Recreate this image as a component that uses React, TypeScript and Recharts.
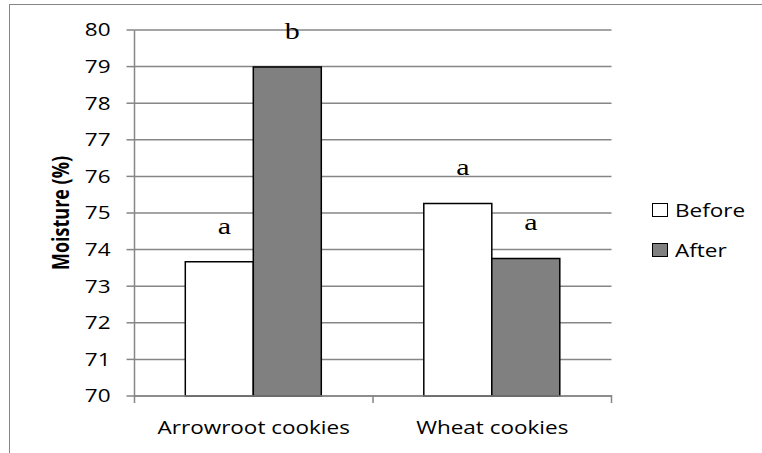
import React from 'react';
import { BarChart, Bar, XAxis, YAxis, CartesianGrid, Legend, LabelList, Label } from 'recharts';

const categories = ['Arrowroot cookies', 'Wheat cookies'];
const beforeValues = [73.67, 75.26];
const afterValues = [78.99, 73.76];
const beforeLetters = ['a', 'a'];
const afterLetters = ['b', 'a'];
const yTicks = [70, 71, 72, 73, 74, 75, 76, 77, 78, 79, 80];
const seriesNames = ['Before', 'After'];
const yTitle = 'Moisture (%)';

const data = categories.map((c, i) => ({
  name: c,
  before: beforeValues[i],
  after: afterValues[i],
  beforeLetter: beforeLetters[i],
  afterLetter: afterLetters[i],
}));

const SANS = '"Open Sans", sans-serif';
const GRID = '#868686';
const SX = 1.25;

const LetterLabel = (props: any) => {
  const { x, y, width, value } = props;
  const cx = x + width / 2 + 5;
  const cy = y - 28;
  return (
    <text transform={`translate(${cx},${cy}) scale(${SX},1)`} x={0} y={0} textAnchor="middle" fontFamily='"Liberation Serif", serif' fontSize={24} fill="#000">
      {value}
    </text>
  );
};

const YTick = (props: any) => {
  const { x, y, payload } = props;
  return (
    <text transform={`translate(${x},${y}) scale(${SX},1)`} x={0} y={0} dy="0.36em" textAnchor="end" fontFamily={SANS} fontSize={18} fill="#000">
      {payload.value}
    </text>
  );
};

const YTitle = (props: any) => {
  const vb = props.viewBox || {};
  const cx = (vb.x || 0) + 11;
  const cy = (vb.y || 0) + (vb.height || 0) / 2;
  return (
    <text transform={`translate(${cx},${cy}) scale(${SX},1) rotate(-90)`} x={0} y={0} dy="0.36em" textAnchor="middle" fontFamily={SANS} fontSize={18} fontWeight={700} fill="#000">
      {yTitle}
    </text>
  );
};

const XTick = (props: any) => {
  const { x, y, payload, index } = props;
  const off = payload.offset || 0;
  const axisY = y;
  return (
    <g>
      <line x1={x - off} x2={x - off} y1={axisY - 1} y2={axisY + 7} stroke={GRID} strokeWidth={1.5} />
      {index === categories.length - 1 && (
        <line x1={x + off} x2={x + off} y1={axisY - 1} y2={axisY + 7} stroke={GRID} strokeWidth={1.5} />
      )}
      <text transform={`translate(${x},${axisY + 38}) scale(${SX},1)`} x={0} y={0} textAnchor="middle" fontFamily={SANS} fontSize={18} fill="#000">
        {payload.value}
      </text>
    </g>
  );
};

const LegendContent = () => {
  const fills = ['#ffffff', '#808080'];
  return (
    <div style={{ fontFamily: SANS, fontSize: 18 }}>
      {seriesNames.map((n, i) => (
        <div key={n} style={{ display: 'flex', alignItems: 'center', height: 40 }}>
          <span style={{ display: 'inline-block', width: 14, height: 12, border: '1px solid #000', background: fills[i], marginRight: 7, boxSizing: 'content-box' }} />
          <span style={{ display: 'inline-block', transform: `scaleX(${SX})`, transformOrigin: 'left center' }}>{n}</span>
        </div>
      ))}
    </div>
  );
};

export default function App() {
  return (
    <div style={{ position: 'fixed', left: 0, top: 0, width: 762, height: 453, overflow: 'hidden', background: '#fff' }}>
      <div style={{ position: 'absolute', left: 9, top: 4, width: 800, height: 500, borderTop: `1.5px solid ${GRID}`, borderLeft: `1.5px solid ${GRID}` }} />
      <div style={{ position: 'absolute', left: 0, top: 0 }}>
        <BarChart
          width={762}
          height={453}
          data={data}
          margin={{ top: 30, right: 150.5, bottom: 27, left: 50 }}
          barGap={0}
          barCategoryGap="21.3%"
        >
          <CartesianGrid vertical={false} stroke={GRID} strokeWidth={1.5} />
          <XAxis
            dataKey="name"
            height={30}
            stroke={GRID}
            strokeWidth={1.5}
            tickLine={false}
            tickSize={0}
            tickMargin={0}
            tick={<XTick />}
            interval={0}
          />
          <YAxis
            domain={[70, 80]}
            ticks={yTicks}
            width={84.5}
            stroke={GRID}
            strokeWidth={1.5}
            tickSize={8}
            tickMargin={16}
            tick={<YTick />}
            interval={0}
          >
            <Label content={<YTitle />} />
          </YAxis>
          <Legend
            layout="horizontal"
            verticalAlign="middle"
            align="center"
            wrapperStyle={{ left: 652, top: 190, width: 110 }}
            content={<LegendContent />}
          />
          <Bar dataKey="before" name="Before" fill="#ffffff" stroke="#000" strokeWidth={1.5} isAnimationActive={false}>
            <LabelList dataKey="beforeLetter" content={<LetterLabel />} />
          </Bar>
          <Bar dataKey="after" name="After" fill="#808080" stroke="#000" strokeWidth={1.5} isAnimationActive={false}>
            <LabelList dataKey="afterLetter" content={<LetterLabel />} />
          </Bar>
        </BarChart>
      </div>
    </div>
  );
}
